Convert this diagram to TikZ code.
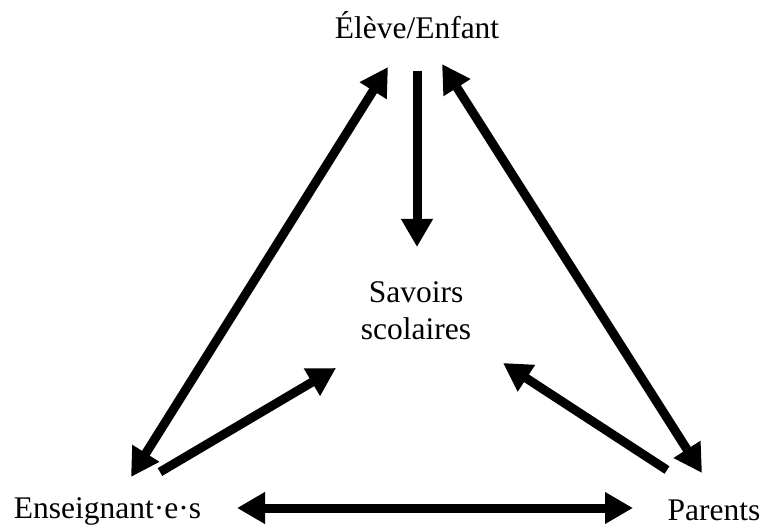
\documentclass[tikz,border=0pt]{standalone}
\usepackage{fontspec}
\setmainfont{Liberation Serif}
\usetikzlibrary{arrows.meta,calc}

\begin{document}
\begin{tikzpicture}[x=1pt,y=-1pt,
  txt/.style={inner sep=0pt,font=\fontsize{31.5}{37}\selectfont},
  fleche/.style={line width=9pt,-{Triangle[length=28pt,width=30pt]}},
  fleches/.style={line width=9pt,{Triangle[length=28pt,width=30pt]}-{Triangle[length=28pt,width=30pt]}}]
\useasboundingbox (0,0) rectangle (763,529);
\node[txt,anchor=base] (eleve) at (417,39) {Élève/Enfant};
\node[txt,align=center] (savoirs) at (416,311) {Savoirs\\scolaires};
\node[txt,anchor=base] (ens) at (107.5,518) {Enseignant·e·s};
\node[txt,anchor=base] (parents) at (714,520) {Parents};
\draw[fleche] ($(eleve.base)+(0,32)$) -- ($(savoirs.center)+(1,-64)$);
\draw[fleches] ($(eleve.base)+(-29,28)$) -- ($(ens.base)+(23.5,-41)$);
\draw[fleches] ($(eleve.base)+(25,25)$) -- ($(parents.base)+(-12,-47)$);
\draw[fleche] ($(ens.base)+(52.5,-46)$) -- ($(savoirs.center)+(-80,57)$);
\draw[fleche] ($(parents.base)+(-47,-50)$) -- ($(savoirs.center)+(87,52)$);
\draw[fleches] ($(ens.base)+(129.5,-10)$) -- ($(parents.base)+(-81,-12)$);
\end{tikzpicture}
\end{document}
